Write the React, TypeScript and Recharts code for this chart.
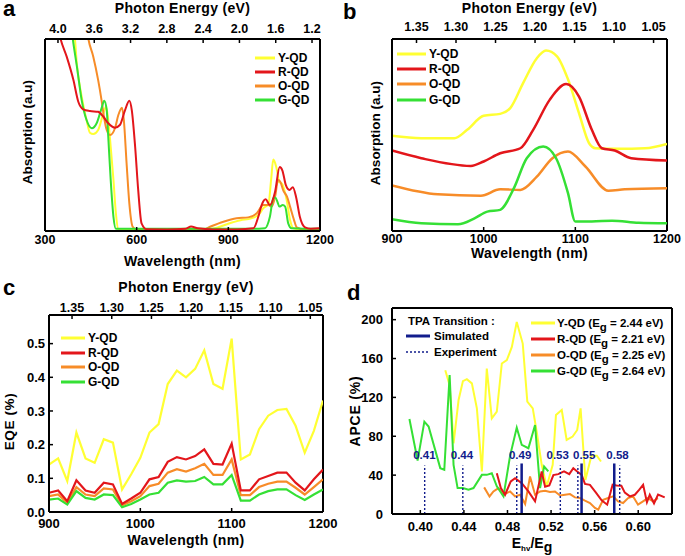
import React from "react";
import { LineChart, Line, XAxis, YAxis, Legend, ReferenceLine, ReferenceDot } from "recharts";

const FONT = "Arial, 'Liberation Sans', sans-serif";
const NAMES = ["Y-QD", "R-QD", "O-QD", "G-QD"];
const COLORS: Record<string, string> = {
  "Y-QD": "#ffff33",
  "R-QD": "#e3161b",
  "O-QD": "#f78c28",
  "G-QD": "#35e035",
};
const NAVY = "#111c8c";

// ---- panel a : absorption 300-1200 nm (a.u. 0-100)
const aYellow = [[392,106],[398,100],[404,87.3],[420,70],[436,57.8],[447,51.2],[458,50.5],[474,52.6],[491,61.3],[500,64.7],[507,57.8],[515,43.9],[524,26.6],[532,9.2],[540,0.9],[560,0.5],[700,0.5],[820,0.7],[860,1.6],[900,3.8],[940,5.6],[975,6.6],[1000,8.6],[1015,12],[1031,13.8],[1040,26.6],[1047,37.3],[1053,35.5],[1060,31],[1066,25.5],[1075,24.8],[1091,16.1],[1102,5.7],[1113,1.4],[1140,0.8],[1200,0.8]];
const aRed = [[345,104],[351,100],[371,90.8],[393,78.6],[409,67.3],[425,63.4],[447,62.5],[474,62.1],[491,59.5],[507,56.1],[529,53.8],[545,55.2],[562,63],[576,67.9],[584,63],[595,43.9],[605,21.4],[616,4],[633,0.9],[700,0.8],[760,1.2],[778,2.3],[800,1.4],[850,0.8],[930,0.8],[982,1.4],[998,7.4],[1009,13.5],[1022,16.5],[1036,13.5],[1053,20.5],[1068,33.3],[1077,31.5],[1088,24],[1100,21.4],[1111,22.8],[1122,17.5],[1134,7.4],[1151,1.9],[1170,1.2],[1200,1.4]];
const aOrange = [[436,106],[442,100],[458,90.8],[474,78.6],[485,68.2],[493,59.5],[502,52.6],[513,50],[529,53.5],[540,60.4],[552,64.2],[558,57.8],[567,35.3],[576,14.4],[587,2.2],[600,0.8],[700,0.6],[820,0.9],[840,2.2],[884,4.8],[927,6.6],[965,7.1],[993,9.2],[1014,13.5],[1031,13.5],[1042,12.7],[1053,17.9],[1063,26.6],[1070,25.7],[1080,21],[1092,17.9],[1102,12.7],[1115,5.7],[1124,1.9],[1150,0.8],[1200,1.2]];
const aGreen = [[386,106],[391,100],[406,83.9],[420,68.2],[436,57.8],[453,53.5],[469,56.1],[485,63.9],[494,67.9],[502,63],[507,49.1],[515,26.6],[524,7.4],[532,1.2],[560,1.2],[800,1.2],[1000,1.2],[1020,1.4],[1036,7.4],[1047,17],[1054,17.5],[1061,15],[1067,12.7],[1078,13.5],[1086,12.7],[1096,4],[1107,1.4],[1150,1.2],[1200,1.2]];
const aTicks = [300, 600, 900, 1200];
const aEnergyTicks = [4.0, 3.6, 3.2, 2.8, 2.4, 2.0, 1.6, 1.2];

// ---- panel b : absorption 900-1200 nm (offset curves)
const bYellow = [[900,49.6],[932,48.3],[968,48.3],[982,52.7],[1000,60],[1018,61],[1029,64],[1043,77],[1058,90],[1068,94],[1080,91],[1092,79],[1104,61.4],[1115,45.7],[1122,43.1],[1147,42.8],[1176,43.1],[1200,45.4]];
const bRed = [[900,41.9],[932,37.9],[986,33.9],[1000,36.2],[1018,40.5],[1040,43.1],[1054,52.7],[1072,68.3],[1090,76.5],[1104,70],[1118,52.7],[1129,43.1],[1143,41.9],[1161,37.9],[1200,36.7]];
const bOrange = [[900,23.7],[950,19.1],[997,18.4],[1018,21.7],[1040,21.4],[1058,28.3],[1075,37.9],[1092,41.4],[1111,33.6],[1136,21],[1154,21.7],[1200,22.3]];
const bGreen = [[900,6.1],[932,4],[972,3.5],[990,6.6],[1004,10.1],[1018,11],[1033,22.3],[1047,37.9],[1065,44],[1079,37.9],[1092,19.7],[1100,4.9],[1118,4.9],[1140,5.4],[1169,4.3],[1200,4]];
const nirTicks = [900, 1000, 1100, 1200];
const nirEnergyTicks = [1.35, 1.3, 1.25, 1.2, 1.15, 1.1, 1.05];

// ---- panel c : EQE (%)
const cWl = [900,910,920,930,940,950,960,970,980,990,1000,1010,1020,1030,1040,1050,1060,1070,1080,1090,1100,1110,1120,1130,1140,1150,1160,1170,1180,1190,1200];
const cYellow = [0.141,0.159,0.092,0.236,0.159,0.146,0.216,0.206,0.067,0.112,0.161,0.236,0.261,0.38,0.42,0.4,0.425,0.48,0.38,0.366,0.515,0.156,0.171,0.246,0.286,0.303,0.306,0.256,0.176,0.241,0.331];
const cRed = [0.057,0.064,0.032,0.094,0.064,0.057,0.087,0.082,0.024,0.04,0.057,0.097,0.104,0.149,0.163,0.156,0.166,0.186,0.143,0.141,0.203,0.064,0.064,0.097,0.107,0.117,0.117,0.087,0.064,0.097,0.126];
const cOrange = [0.047,0.052,0.027,0.074,0.052,0.047,0.07,0.067,0.02,0.032,0.047,0.077,0.084,0.117,0.127,0.12,0.13,0.143,0.11,0.11,0.156,0.05,0.05,0.074,0.084,0.09,0.09,0.072,0.052,0.074,0.097];
const cGreen = [0.037,0.04,0.022,0.062,0.042,0.037,0.052,0.05,0.014,0.024,0.037,0.052,0.057,0.087,0.094,0.09,0.092,0.104,0.082,0.082,0.11,0.034,0.034,0.052,0.062,0.067,0.067,0.05,0.036,0.052,0.067];
const cYTicks = [0, 0.1, 0.2, 0.3, 0.4, 0.5];

// ---- panel d : APCE (%) vs Ehv/Eg
const dYellow = [[0.4229,148],[0.4269,132.6],[0.4305,72.8],[0.4351,117.3],[0.4391,136.8],[0.4427,138.8],[0.4473,134.4],[0.4519,108.7],[0.4565,43.8],[0.461,149.7],[0.4656,98.5],[0.4702,105.3],[0.4748,154.9],[0.4794,158.3],[0.484,172],[0.4885,197.6],[0.494,175.4],[0.4982,115.6],[0.5032,108.7],[0.5068,84.8],[0.5114,50.6],[0.516,28.4],[0.5215,50.6],[0.5245,101.9],[0.5298,107],[0.5343,76.2],[0.5398,79.7],[0.544,86.5],[0.5471,108.7],[0.5515,35],[0.557,60],[0.562,60],[0.5658,54]];
const dRed = [[0.4702,42],[0.4739,26.7],[0.4778,19.8],[0.483,33.5],[0.487,36.9],[0.4931,31.8],[0.4992,23.2],[0.5053,13],[0.5114,43.8],[0.5145,28],[0.5184,29.4],[0.5221,40],[0.5266,41],[0.5319,43.8],[0.5367,41],[0.5404,47.2],[0.544,43.8],[0.5481,40.3],[0.5511,31],[0.5557,30],[0.5612,22],[0.5664,14],[0.5715,9.6],[0.5765,30.1],[0.5801,29.4],[0.5845,29],[0.5877,22],[0.5923,18.1],[0.5969,19.8],[0.601,25],[0.6045,30],[0.608,12],[0.6106,19.8],[0.6145,11],[0.6182,20],[0.6243,17.1]];
const dOrange = [[0.4586,27.4],[0.4635,18.1],[0.4671,23.2],[0.4717,26.7],[0.4763,19.8],[0.4824,23.2],[0.487,18.1],[0.4916,19.8],[0.4962,10.3],[0.5007,38.6],[0.5053,19.8],[0.5099,23.2],[0.5145,23.9],[0.519,22.6],[0.5236,23.2],[0.5282,19.1],[0.5328,19.8],[0.5374,20.5],[0.5419,17.1],[0.5465,16.4],[0.5511,13.7],[0.5557,11.3],[0.5603,6.2],[0.5633,4.4],[0.5678,14.7],[0.5724,16.4],[0.577,18.1],[0.5815,13],[0.5861,11.3],[0.5907,16.4],[0.5953,18.1],[0.5998,9.6],[0.6044,13],[0.6089,16.4],[0.6135,13],[0.6181,16.4]];
const dGreen = [[0.39,97.8],[0.3975,55],[0.4037,95],[0.4076,90],[0.4183,47.2],[0.422,45.5],[0.4269,143],[0.4305,50.6],[0.4342,26.7],[0.4391,26.7],[0.4442,25],[0.4488,26.7],[0.4565,40.3],[0.461,40.3],[0.4656,42],[0.4702,28.4],[0.4763,18.1],[0.4824,60],[0.4885,88.9],[0.4931,71.1],[0.4992,67.7],[0.5053,91.6],[0.5099,26.7],[0.5136,48.9],[0.5175,43.8]];
const dEg = ["2.44", "2.21", "2.25", "2.64"];
const dXTicks = [0.4, 0.44, 0.48, 0.52, 0.56, 0.6];
const dYTicks = [0, 40, 80, 120, 160, 200];
const tpaSimulated = [0.493, 0.548, 0.578];
const tpaExperiment = [0.404, 0.439, 0.4885, 0.5285, 0.5446, 0.583];
const tpaLabelX = [0.4037, 0.4382, 0.4916, 0.5261, 0.5504, 0.581];
const tpaLabels = ["0.41", "0.44", "0.49", "0.53", "0.55", "0.58"];

const pts = (arr: number[][]) => arr.map(([x, y]) => ({ x, y }));
const cData = cWl.map((wl, i) => ({ wl, Y: cYellow[i], R: cRed[i], O: cOrange[i], G: cGreen[i] }));

const frame = { stroke: "#000", strokeWidth: 2 };
const tl = { stroke: "#000", strokeWidth: 1.5 };
const tickFont = (fs: number) => ({ fontSize: fs, fontWeight: 700, fill: "#000", fontFamily: FONT });
const title = (value: string, position: string, offset: number) => ({
  value, position, offset, fontSize: 14, fontWeight: 700, fill: "#000", fontFamily: FONT, letterSpacing: 0.3,
});

const yTitle = (text: string, cx: number, fs: number, ls: number, dy = 0) => (props: any) => {
  const vb = props?.viewBox ?? { y: 0, height: 0 };
  const cy = vb.y + vb.height / 2 + dy;
  return (
    <text x={cx} y={cy} transform={`rotate(-90 ${cx} ${cy})`} textAnchor="middle" dominantBaseline="central"
      fontSize={fs} fontWeight={700} fontFamily={FONT} letterSpacing={ls} fill="#000">
      {text}
    </text>
  );
};

// invisible carrier so the photon-energy axis gets a domain of its own
const EnergyCarrier = (ticks: number[]) => (
  <Line xAxisId="top" data={ticks.map((e) => ({ e }))} dataKey="none" stroke="none" legendType="none"
    dot={false} activeDot={false} isAnimationActive={false} />
);

function qdLegend(lineW: number, rowH: number) {
  return (props: any) => {
    const items = [...(props.payload || [])]
      .filter((a: any) => NAMES.includes(a.value))
      .sort((a: any, b: any) => NAMES.indexOf(a.value) - NAMES.indexOf(b.value));
    return (
      <div style={{ fontFamily: FONT, fontWeight: 700, fontSize: 12, color: "#000" }}>
        {items.map((it: any) => (
          <div key={it.value} style={{ display: "flex", alignItems: "center", height: rowH, whiteSpace: "nowrap" }}>
            <svg width={lineW} height={6} style={{ display: "block" }}>
              <line x1={0} y1={3} x2={lineW} y2={3} stroke={it.color} strokeWidth={3} />
            </svg>
            <span style={{ marginLeft: 3 }}>{it.value}</span>
          </div>
        ))}
      </div>
    );
  };
}

const dLegend = (props: any) => {
  const items = [...(props.payload || [])]
    .filter((a: any) => NAMES.includes(a.value))
    .sort((a: any, b: any) => NAMES.indexOf(a.value) - NAMES.indexOf(b.value));
  return (
    <div style={{ position: "relative", fontFamily: FONT, fontWeight: 700, fontSize: 11.5, color: "#000" }}>
      <div style={{ position: "absolute", left: 68, top: 39, whiteSpace: "nowrap", lineHeight: "15px" }}>TPA Transition :</div>
      <div style={{ position: "absolute", left: 66, top: 53, display: "flex", alignItems: "center", height: 15, whiteSpace: "nowrap" }}>
        <svg width={24} height={6} style={{ display: "block" }}><line x1={0} y1={3} x2={24} y2={3} stroke={NAVY} strokeWidth={3} /></svg>
        <span style={{ marginLeft: 4 }}>Simulated</span>
      </div>
      <div style={{ position: "absolute", left: 66, top: 69, display: "flex", alignItems: "center", height: 15, whiteSpace: "nowrap" }}>
        <svg width={24} height={6} style={{ display: "block" }}><line x1={0} y1={3} x2={24} y2={3} stroke={NAVY} strokeWidth={1.5} strokeDasharray="2 2" /></svg>
        <span style={{ marginLeft: 4 }}>Experiment</span>
      </div>
      <div style={{ position: "absolute", left: 191, top: 40.5 }}>
        {items.map((it: any) => (
          <div key={it.value} style={{ display: "flex", alignItems: "center", height: 15.8, whiteSpace: "nowrap" }}>
            <svg width={24} height={6} style={{ display: "block" }}>
              <line x1={0} y1={3} x2={24} y2={3} stroke={it.color} strokeWidth={3} />
            </svg>
            <span style={{ marginLeft: 2 }}>
              {it.value} (E<span style={{ position: "relative", top: 4 }}>g</span> = {dEg[NAMES.indexOf(it.value)]} eV)
            </span>
          </div>
        ))}
      </div>
    </div>
  );
};

const dXTitle = (props: any) => {
  const vb = props?.viewBox ?? { x: 0, y: 0, width: 0, height: 0 };
  const cx = vb.x + vb.width / 2;
  const by = vb.y + vb.height - 8;
  return (
    <text x={cx} y={by} textAnchor="middle" fontSize={14} fontWeight={700} fontFamily={FONT} fill="#000">
      E<tspan fontSize={8} dy={3}>hv</tspan>
      <tspan fontSize={14} dy={-3}>/E</tspan>
      <tspan fontSize={14} dy={4}>g</tspan>
    </text>
  );
};

const order = ["Y-QD", "O-QD", "G-QD", "R-QD"];
const aSeries: Record<string, number[][]> = { "Y-QD": aYellow, "R-QD": aRed, "O-QD": aOrange, "G-QD": aGreen };
const bSeries: Record<string, number[][]> = { "Y-QD": bYellow, "R-QD": bRed, "O-QD": bOrange, "G-QD": bGreen };
const dSeries: Record<string, number[][]> = { "Y-QD": dYellow, "R-QD": dRed, "O-QD": dOrange, "G-QD": dGreen };
const cKeys: Record<string, string> = { "Y-QD": "Y", "R-QD": "R", "O-QD": "O", "G-QD": "G" };

function PanelA() {
  return (
    <LineChart width={340} height={275} margin={{ top: 0, right: 20, bottom: 0, left: 0 }}>
      <XAxis type="number" dataKey="x" domain={[300, 1200]} ticks={aTicks} allowDataOverflow height={44} interval={0}
        tickSize={-4} tickMargin={7.7} tick={tickFont(12.5)} axisLine={frame} tickLine={tl}
        label={title("Wavelength (nm)", "insideBottom", 9)} />
      <XAxis xAxisId="top" orientation="top" type="number" dataKey="e" domain={[1.112, 4.143]} reversed
        ticks={aEnergyTicks} interval={0} tickFormatter={(v: number) => v.toFixed(1)} allowDataOverflow height={39}
        tickSize={-4} tickMargin={10.3} tick={tickFont(12.5)} axisLine={frame} tickLine={tl}
        label={title("Photon Energy (eV)", "insideTop", 3.1)} />
      <YAxis type="number" domain={[0, 100]} allowDataOverflow width={45} tick={false} tickLine={false}
        axisLine={frame} label={yTitle("Absorption (a.u)", 27, 13.5, 0, -3)} />
      <ReferenceLine x={1200} stroke="#000" strokeWidth={2} />
      {EnergyCarrier(aEnergyTicks)}
      {order.map((n) => (
        <Line key={n} name={n} data={pts(aSeries[n])} dataKey="y" type="monotone" stroke={COLORS[n]}
          strokeWidth={2} dot={false} activeDot={false} isAnimationActive={false} />
      ))}
      <Legend layout="vertical" align="center" verticalAlign="middle" wrapperStyle={{ left: 255, top: 51 }}
        content={qdLegend(20, 14.1)} />
    </LineChart>
  );
}

function PanelB() {
  return (
    <LineChart width={345} height={275} margin={{ top: 0, right: 18, bottom: 0, left: 0 }}>
      <XAxis type="number" dataKey="x" domain={[900, 1200]} ticks={nirTicks} allowDataOverflow height={44} interval={0}
        tickSize={-4} tickMargin={7.5} tick={tickFont(12.5)} axisLine={frame} tickLine={tl}
        label={title("Wavelength (nm)", "insideBottom", 17)} />
      <XAxis xAxisId="top" orientation="top" type="number" dataKey="e" domain={[1.033, 1.381]} reversed
        ticks={nirEnergyTicks} interval={0} tickFormatter={(v: number) => v.toFixed(2)} allowDataOverflow height={39}
        tickSize={-4} tickMargin={12.3} tick={tickFont(12.5)} axisLine={frame} tickLine={tl}
        label={title("Photon Energy (eV)", "insideTop", 3.1)} />
      <YAxis type="number" domain={[0, 100]} allowDataOverflow width={52} tick={false} tickLine={false}
        axisLine={frame} label={yTitle("Absorption (a.u)", 35, 13.5, 0, -2)} />
      <ReferenceLine x={1200} stroke="#000" strokeWidth={2} />
      {EnergyCarrier(nirEnergyTicks)}
      {order.map((n) => (
        <Line key={n} name={n} data={pts(bSeries[n])} dataKey="y" type="monotone" stroke={COLORS[n]}
          strokeWidth={2.5} dot={false} activeDot={false} isAnimationActive={false} />
      ))}
      <Legend layout="vertical" align="center" verticalAlign="middle" wrapperStyle={{ left: 57, top: 46.5 }}
        content={qdLegend(29, 15.2)} />
    </LineChart>
  );
}

function PanelC() {
  return (
    <LineChart width={340} height={281} data={cData} margin={{ top: 0, right: 17, bottom: 0, left: 0 }}>
      <XAxis type="number" dataKey="wl" domain={[900, 1200]} ticks={nirTicks} allowDataOverflow height={44} interval={0}
        tickSize={-4} tickMargin={11} tick={tickFont(13)} axisLine={frame} tickLine={tl}
        label={title("Wavelength (nm)", "insideBottom", 11)} />
      <XAxis xAxisId="top" orientation="top" type="number" dataKey="e" domain={[1.034, 1.379]} reversed
        ticks={nirEnergyTicks} interval={0} tickFormatter={(v: number) => v.toFixed(2)} allowDataOverflow height={40}
        tickSize={-4} tickMargin={7.3} tick={tickFont(12.5)} axisLine={frame} tickLine={tl}
        label={title("Photon Energy (eV)", "insideTop", 7)} />
      <YAxis type="number" domain={[0, 0.585]} ticks={cYTicks} allowDataOverflow width={49} interval={0}
        tickFormatter={(v: number) => v.toFixed(1)} tickSize={-4} tickMargin={8} tick={tickFont(13)}
        tickLine={tl} axisLine={frame} label={yTitle("EQE (%)", 9.5, 13.5, 0.6, 8)} />
      <ReferenceLine x={1200} stroke="#000" strokeWidth={2} />
      {EnergyCarrier(nirEnergyTicks)}
      {order.map((n) => (
        <Line key={n} name={n} dataKey={cKeys[n]} type="linear" stroke={COLORS[n]}
          strokeWidth={2.2} dot={false} activeDot={false} isAnimationActive={false} />
      ))}
      <Legend layout="vertical" align="center" verticalAlign="middle" wrapperStyle={{ left: 61, top: 56 }}
        content={qdLegend(24, 14.6)} />
    </LineChart>
  );
}

function PanelD() {
  return (
    <LineChart width={345} height={281} margin={{ top: 33, right: 13, bottom: 0, left: 0 }}>
      <XAxis type="number" dataKey="x" domain={[0.374, 0.631]} ticks={dXTicks} allowDataOverflow height={42} interval={0}
        tickFormatter={(v: number) => v.toFixed(2)} tickSize={-4} tickMargin={11.7} tick={tickFont(13)}
        axisLine={frame} tickLine={tl} label={dXTitle} />
      <YAxis type="number" domain={[0, 212]} ticks={dYTicks} allowDataOverflow width={52} tickSize={-4} interval={0}
        tickMargin={13} tick={tickFont(13)} tickLine={tl} axisLine={frame}
        label={yTitle("APCE (%)", 15, 14, 0.8, 0)} />
      <ReferenceLine x={0.631} stroke="#000" strokeWidth={2} />
      <ReferenceLine y={212} stroke="#000" strokeWidth={2} />
      {order.map((n) => (
        <Line key={n} name={n} data={pts(dSeries[n])} dataKey="y" type="linear" stroke={COLORS[n]}
          strokeWidth={2} dot={false} activeDot={false} isAnimationActive={false} />
      ))}
      {tpaExperiment.map((x) => (
        <ReferenceLine key={"e" + x} segment={[{ x, y: 0 }, { x, y: 50 }]} stroke={NAVY} strokeWidth={1.4}
          strokeDasharray="2 2" />
      ))}
      {tpaSimulated.map((x) => (
        <ReferenceLine key={"s" + x} segment={[{ x, y: 0 }, { x, y: 52 }]} stroke={NAVY} strokeWidth={2.5} />
      ))}
      {tpaLabelX.map((x, i) => (
        <ReferenceDot key={"l" + i} x={x} y={60.8} r={0} fill="none" stroke="none"
          label={{ value: tpaLabels[i], position: "center", fill: NAVY, fontSize: 11.5, fontWeight: 700, fontFamily: FONT }} />
      ))}
      <Legend layout="vertical" align="center" verticalAlign="middle" wrapperStyle={{ left: 0, top: 0 }}
        content={dLegend} />
    </LineChart>
  );
}

export default function App() {
  const letter = { fontSize: 22, fontWeight: 700, fontFamily: FONT, fill: "#000" };
  return (
    <div style={{ position: "absolute", left: 0, top: 0, width: 685, height: 556, background: "#fff", overflow: "hidden" }}>
      <div style={{ position: "absolute", left: 0, top: 0 }}><PanelA /></div>
      <div style={{ position: "absolute", left: 340, top: 0 }}><PanelB /></div>
      <div style={{ position: "absolute", left: 0, top: 275 }}><PanelC /></div>
      <div style={{ position: "absolute", left: 340, top: 275 }}><PanelD /></div>
      <svg width={685} height={556} style={{ position: "absolute", left: 0, top: 0, pointerEvents: "none" }}>
        <text x={3} y={16} {...letter}>a</text>
        <text x={343} y={18.5} {...letter}>b</text>
        <text x={3} y={295} {...letter}>c</text>
        <text x={347} y={300} {...letter}>d</text>
      </svg>
    </div>
  );
}
